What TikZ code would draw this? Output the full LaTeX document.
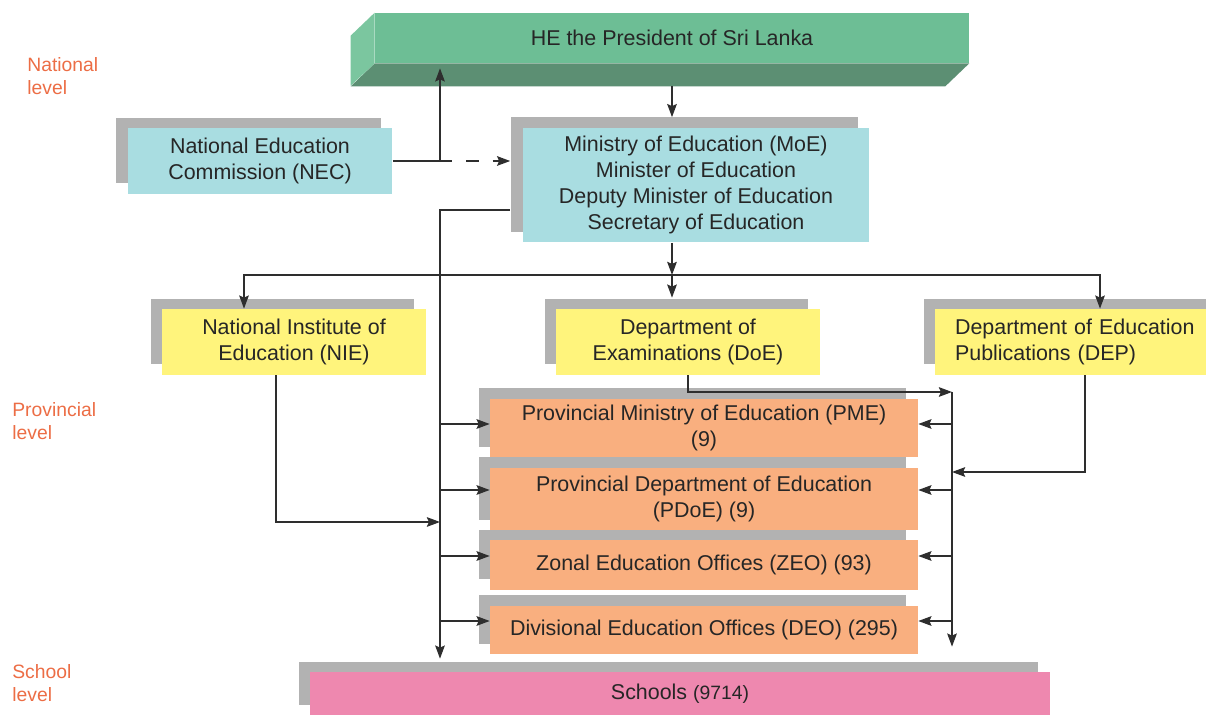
\documentclass[tikz,border=0pt]{standalone}
\usepackage{fontspec}
\setmainfont{Liberation Sans}
\usetikzlibrary{arrows.meta,shadows,calc}
\definecolor{nedcyan}{HTML}{A9DDE1}
\definecolor{nedyellow}{HTML}{FFF47C}
\definecolor{nedorange}{HTML}{F9AF7F}
\definecolor{nedpink}{HTML}{EE88AF}
\definecolor{presgreen}{HTML}{6DBE95}
\definecolor{presside}{HTML}{7BC69F}
\definecolor{presdark}{HTML}{5C8F73}
\definecolor{shadegray}{HTML}{B2B2B2}
\definecolor{linegray}{HTML}{2E2E2E}
\definecolor{levelred}{HTML}{EC6D45}
\begin{document}
\begin{tikzpicture}[x=0.02cm,y=-0.02cm,
    font=\fontsize{12.2}{14.7}\selectfont, text=black!85,
    orgbox/.style={inner sep=0pt, align=center, general shadow={fill=shadegray, shadow xshift=-0.23cm, shadow yshift=0.21cm}},
    conn/.style={draw=linegray, line width=0.75pt},
    arr/.style={conn, -{Stealth[length=7.5pt,width=5.5pt,inset=1.2pt]}},
    levellabel/.style={text=levelred, align=left, anchor=west, inner sep=0pt, font=\fontsize{11}{13}\selectfont}]
    \useasboundingbox (0,0) rectangle (1206,715);
    \node[fill=presgreen, minimum width=11.88cm, minimum height=1cm, inner sep=0pt] (pres) at (672,38) {HE the President of Sri Lanka};
    \fill[presdark] (pres.south west) -- (pres.south east) -- ++(-24,23) -- ($(pres.south west)+(-24,23)$) -- cycle;
    \fill[presside] (pres.north west) -- ++(-24,23) -- ++(0,50) -- (pres.south west) -- cycle;
    \node[orgbox, fill=nedcyan, minimum width=5.3cm, minimum height=1.32cm] (nec) at (260,161) {National Education\\Commission (NEC)};
    \node[orgbox, fill=nedcyan, minimum width=6.94cm, minimum height=2.3cm] (moe) at (696,185) {Ministry of Education (MoE)\\Minister of Education\\Deputy Minister of Education\\Secretary of Education};
    \node[orgbox, fill=nedyellow, minimum width=5.28cm, minimum height=1.32cm] (nie) at (294,342) {National Institute of\\Education (NIE)};
    \node[orgbox, fill=nedyellow, minimum width=5.28cm, minimum height=1.32cm] (doe) at (688,342) {Department of\\Examinations (DoE)};
    \node[orgbox, fill=nedyellow, minimum height=1.32cm, align=left, text width=5.2cm, inner xsep=0.4cm] (dep) at (1085,342) {Department of Education\\Publications (DEP)};
    \node[orgbox, fill=nedorange, minimum width=8.56cm, minimum height=1.18cm] (pme) at (704,428) {Provincial Ministry of Education (PME)\\(9)};
    \node[orgbox, fill=nedorange, minimum width=8.56cm, minimum height=1.26cm] (pdoe) at (704,499) {Provincial Department of Education\\(PDoE) (9)};
    \node[orgbox, fill=nedorange, minimum width=8.56cm, minimum height=1cm] (zeo) at (704,565) {Zonal Education Offices (ZEO) (93)};
    \node[orgbox, fill=nedorange, minimum width=8.56cm, minimum height=0.98cm] (deo) at (704,630) {Divisional Education Offices (DEO) (295)};
    \node[orgbox, fill=nedpink, minimum width=14.8cm, minimum height=0.86cm] (sch) at (680,693.5) {Schools {\fontsize{11}{13}\selectfont(9714)}};
    \node[levellabel] (natl) at (27,76) {National\\level};
    \node[levellabel] (prov) at (12,421) {Provincial\\level};
    \node[levellabel] (schl) at (12,683) {School\\level};
    \coordinate (necj) at (440,161);
    \coordinate (bus) at (672,275);
    \coordinate (rj) at (952,392);
    \draw[conn] (nec.east) -- (necj);
    \draw[arr, dash pattern=on 7pt off 8pt] (necj) -- ($(moe.west |- necj)+(-12,0)$);
    \draw[arr] (necj) -- ($(pres.south -| necj)+(0,5)$);
    \draw[arr] ($(pres.south)+(0,23)$) -- ($(pres.south |- moe.north)+(0,-10)$);
    \draw[arr] ($(moe.west)+(-12,25)$) -| ($(sch.north -| necj)+(0,-13)$);
    \draw[arr] ($(nie.south)+(-18,0)$) |- ($(necj)+(0,361)$);
    \draw[arr] (moe.south -| bus) -- (bus);
    \draw[arr] (bus) -| ($(nie.north)+(-50,0)$);
    \draw[arr] (bus) -- ($(bus |- doe.north)+(0,-11)$);
    \draw[arr] (bus) -| ($(dep.north)+(15,0)$);
    \draw[arr] (doe.south) |- (rj);
    \draw[arr] (rj) -- ($(sch.north -| rj)+(0,-25)$);
    \draw[arr] (dep.south) |- ($(rj)+(0,80)$);
    \foreach \n/\dy in {pme/-4,pdoe/-9,zeo/-9,deo/-9}{
        \draw[arr] ($(\n.west -| necj)+(0,\dy)$) -- ($(\n.west)+(0,\dy)$);
        \draw[arr] ($(\n.east -| rj)+(0,\dy)$) -- ($(\n.east)+(0,\dy)$);
    }
\end{tikzpicture}
\end{document}
